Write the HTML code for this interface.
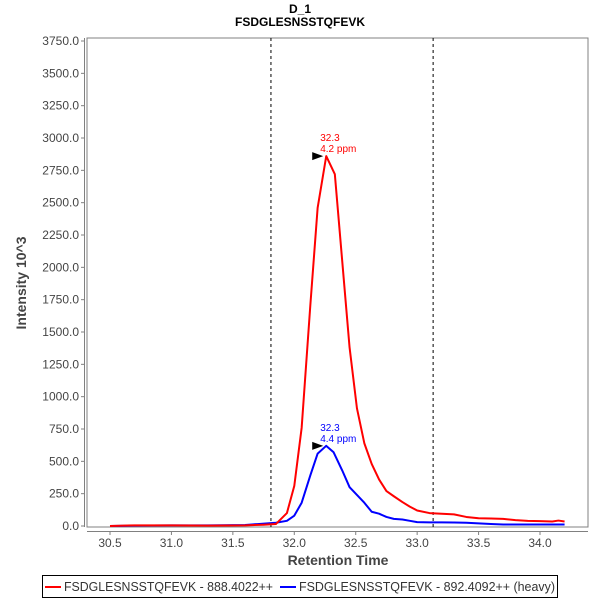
<!DOCTYPE html>
<html><head><meta charset="utf-8"><style>
body{margin:0;background:#fff;font-family:"Liberation Sans","DejaVu Sans",sans-serif}
</style></head><body>
<svg width="600" height="600" id="svg" font-family="Liberation Sans, DejaVu Sans, sans-serif">
<text x="300" y="13" text-anchor="middle" font-size="12" font-weight="bold">D_1</text>
<text x="300" y="26" text-anchor="middle" font-size="12" font-weight="bold">FSDGLESNSSTQFEVK</text>
<rect x="87" y="38" width="501" height="489" fill="#fff" stroke="#808080"/>
<g id="axes"></g>
<g id="marks"></g>
<text x="338" y="565" text-anchor="middle" font-size="14" font-weight="bold" fill="#444">Retention Time</text>
<text transform="translate(26,283) rotate(-90)" text-anchor="middle" font-size="14" font-weight="bold" fill="#444">Intensity 10^3</text>
<g>
<rect x="42.5" y="575.5" width="515" height="22" fill="#fff" stroke="#000"/>
<g><line x1="45" y1="587" x2="61" y2="587" stroke="red" stroke-width="2"/><text x="64" y="591" font-size="13" fill="#333" textLength="209" lengthAdjust="spacingAndGlyphs">FSDGLESNSSTQFEVK - 888.4022++</text></g>
<g><line x1="280" y1="587" x2="296" y2="587" stroke="blue" stroke-width="2"/><text x="299" y="591" font-size="13" fill="#333" textLength="256" lengthAdjust="spacingAndGlyphs">FSDGLESNSSTQFEVK - 892.4092++ (heavy)</text></g>
</g>
</svg>
<script>
const redTimes=[30.5,30.7,31.0,31.3,31.6,31.75,31.85,31.94,32.0,32.06,32.13,32.19,32.26,32.33,32.39,32.45,32.51,32.57,32.63,32.69,32.75,32.81,32.88,32.94,33.0,33.1,33.2,33.3,33.4,33.5,33.6,33.7,33.8,33.9,34.0,34.1,34.15,34.2];
const redValues=[0,5,5,3,5,10,15,100,310,760,1700,2460,2860,2720,2050,1380,910,640,480,360,270,230,185,150,120,100,95,90,70,60,58,55,45,40,38,35,42,35];
const blueTimes=[30.5,30.7,31.0,31.3,31.6,31.7,31.85,31.94,32.0,32.06,32.13,32.19,32.26,32.32,32.39,32.45,32.51,32.57,32.63,32.69,32.75,32.81,32.88,32.94,33.0,33.1,33.2,33.3,33.4,33.5,33.6,33.7,34.2];
const blueValues=[0,3,5,5,8,15,25,40,80,180,390,560,620,570,430,300,240,180,110,95,70,55,50,40,30,28,28,27,25,20,15,12,12];
const xTicks=["30.5","31.0","31.5","32.0","32.5","33.0","33.5","34.0"];
const yTicks=["0.0","250.0","500.0","750.0","1000.0","1250.0","1500.0","1750.0","2000.0","2250.0","2500.0","2750.0","3000.0","3250.0","3500.0","3750.0"];
const boundaries=[31.81,33.13];
const peakTimes=[32.26,32.26];
const peakValues=[2860,620];
const peakLabels=[["32.3","4.2 ppm"],["32.3","4.4 ppm"]];
const X=t=>110+(t-30.5)*122.86;
const Y=v=>526-v*0.12933;
const NS="http://www.w3.org/2000/svg";
function mk(tag,at,parent){const e=document.createElementNS(NS,tag);for(const k in at)e.setAttribute(k,at[k]);parent.appendChild(e);return e;}
const ax=document.getElementById('axes'),mg=document.getElementById('marks');
mk('line',{x1:87,y1:531.5,x2:588,y2:531.5,stroke:'#808080'},ax);
mk('line',{x1:84.5,y1:38,x2:84.5,y2:527,stroke:'#808080'},ax);
xTicks.forEach(s=>{const x=X(+s);
mk('line',{x1:x,y1:531,x2:x,y2:535,stroke:'#808080'},ax);
const t=mk('text',{x:x,y:547,'text-anchor':'middle','font-size':12,fill:'#444'},ax);t.textContent=s;

});
yTicks.forEach(s=>{const y=Y(+s);
mk('line',{x1:81,y1:y,x2:84,y2:y,stroke:'#808080'},ax);
const t=mk('text',{x:79,y:y+4,'text-anchor':'end','font-size':12,fill:'#444'},ax);t.textContent=s;

});
boundaries.forEach(b=>{const l=mk('line',{x1:X(b),y1:38,x2:X(b),y2:527,stroke:'#000','stroke-dasharray':'3,3'},mg);

});
function series(ts,vs,c,name){const p=mk('polyline',{points:ts.map((t,i)=>X(t)+','+Y(vs[i])).join(' '),fill:'none',stroke:c,'stroke-width':2,'stroke-linejoin':'round'},mg);

}
series(blueTimes,blueValues,'blue','heavy-series-line');
series(redTimes,redValues,'red','light-series-line');
['red','blue'].forEach((c,i)=>{const x=X(peakTimes[i]),y=Y(peakValues[i]);
const a=mk('polygon',{points:`${x-14},${y-4} ${x-3},${y} ${x-14},${y+4}`,fill:'#000'},mg);


peakLabels[i].forEach((s,j)=>{const t=mk('text',{x:x-6,y:y-15+j*11,'font-size':10,fill:c},mg);t.textContent=s;

});});
</script>
</body></html>
